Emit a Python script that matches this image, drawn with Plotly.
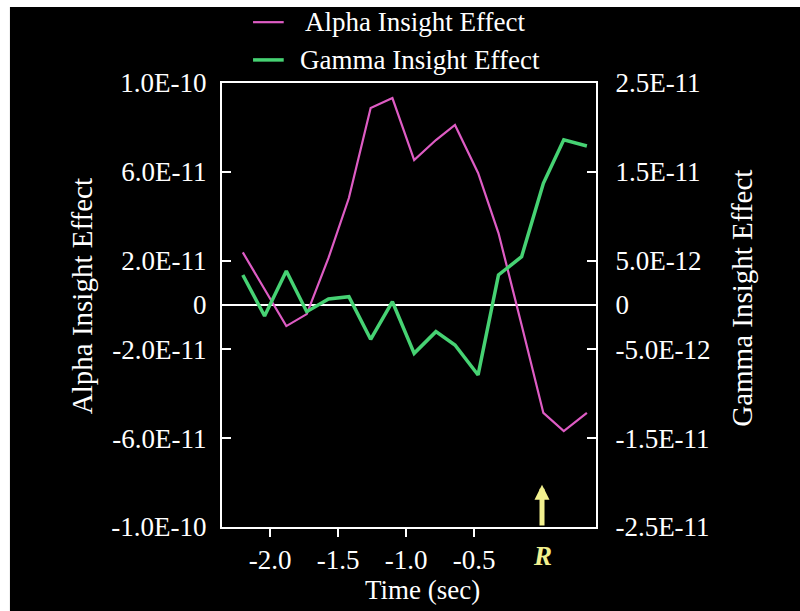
import plotly.graph_objects as go

# Time relative to the response (seconds)
time_sec = [-2.20, -2.04, -1.88, -1.73, -1.57, -1.42, -1.26, -1.10, -0.94,
            -0.78, -0.64, -0.47, -0.32, -0.15, 0.01, 0.16, 0.33]

# Alpha insight effect (left axis)
alpha_effect = [2.37e-11, 0.72e-11, -0.95e-11, -0.41e-11, 2.12e-11, 4.82e-11,
                8.87e-11, 9.32e-11, 6.53e-11, 7.43e-11, 8.11e-11, 5.95e-11,
                3.24e-11, -0.90e-11, -4.86e-11, -5.68e-11, -4.86e-11]

# Gamma insight effect (right axis)
gamma_effect = [3.38e-12, -1.24e-12, 3.83e-12, -0.75e-12, 0.68e-12, 0.93e-12,
                -3.86e-12, 0.37e-12, -5.44e-12, -3.00e-12, -4.50e-12, -7.88e-12,
                3.38e-12, 5.44e-12, 13.7e-12, 18.6e-12, 17.9e-12]

x_tickvals = [-2.0, -1.5, -1.0, -0.5]
x_ticktext = ["-2.0", "-1.5", "-1.0", "-0.5"]

alpha_tickvals = [-1.0e-10, -6.0e-11, -2.0e-11, 0, 2.0e-11, 6.0e-11, 1.0e-10]
alpha_ticktext = ["-1.0E-10", "-6.0E-11", "-2.0E-11", "0", "2.0E-11", "6.0E-11", "1.0E-10"]

gamma_tickvals = [-2.5e-11, -1.5e-11, -5.0e-12, 0, 5.0e-12, 1.5e-11, 2.5e-11]
gamma_ticktext = ["-2.5E-11", "-1.5E-11", "-5.0E-12", "0", "5.0E-12", "1.5E-11", "2.5E-11"]

series_names = ["Alpha Insight Effect", "Gamma Insight Effect"]

response_time = 0.0

FONT = "Liberation Serif"
ALPHA_COLOR = "#de5cc4"
GAMMA_COLOR = "#46d273"
R_COLOR = "#f2f08e"

fig = go.Figure()
fig.add_trace(go.Scatter(x=time_sec, y=alpha_effect, mode="lines",
                         name=series_names[0],
                         line=dict(color=ALPHA_COLOR, width=2.2)))
fig.add_trace(go.Scatter(x=time_sec, y=gamma_effect, mode="lines",
                         name=series_names[1], yaxis="y2",
                         line=dict(color=GAMMA_COLOR, width=3.5)))

axis_font = dict(family=FONT, size=27, color="white")

fig.update_layout(
    width=800, height=611,
    margin=dict(l=222, r=204, t=83, b=84),
    paper_bgcolor="black", plot_bgcolor="black",
    font=dict(family=FONT, size=27, color="white"),
    showlegend=False,
    xaxis=dict(range=[-2.353, 0.397], showgrid=False, zeroline=False,
               showline=True, mirror=True, linecolor="white", linewidth=2,
               ticks="outside", ticklen=8, tickwidth=2, tickcolor="white",
               tickvals=x_tickvals, ticktext=x_ticktext, tickfont=axis_font),
    yaxis=dict(range=[-1.0e-10, 1.0e-10], showgrid=False,
               zeroline=True, zerolinecolor="white", zerolinewidth=2,
               showline=True, mirror=True, linecolor="white", linewidth=2,
               ticks="inside", ticklen=9, tickwidth=2, tickcolor="white",
               tickvals=alpha_tickvals, ticktext=alpha_ticktext,
               tickfont=axis_font, ticklabelstandoff=8),
    yaxis2=dict(range=[-2.5e-11, 2.5e-11], overlaying="y", side="right",
                showgrid=False, zeroline=False,
                showline=True, linecolor="white", linewidth=2,
                ticks="inside", ticklen=9, tickwidth=2, tickcolor="white",
                tickvals=gamma_tickvals, ticktext=gamma_ticktext,
                tickfont=axis_font, ticklabelstandoff=12),
)

# White frame along the top and left edges of the figure
fig.add_shape(type="rect", xref="paper", yref="paper", layer="below",
              x0=-0.62, x1=1.6, y0=1.171, y1=1.25, fillcolor="white", line_width=0)
fig.add_shape(type="rect", xref="paper", yref="paper", layer="below",
              x0=-0.62, x1=-0.567, y0=-0.25, y1=1.25, fillcolor="white", line_width=0)

# Key above the plot: line sample plus series name
key_rows = [(series_names[0], ALPHA_COLOR, 2.2, 1.137, 0.217),
            (series_names[1], GAMMA_COLOR, 3.5, 1.052, 0.203)]
for name, color, width, ypos, xtext in key_rows:
    fig.add_shape(type="line", xref="paper", yref="paper",
                  x0=0.083, x1=0.165, y0=ypos, y1=ypos,
                  line=dict(color=color, width=width))
    fig.add_annotation(text=name, xref="paper", yref="paper",
                       x=xtext, y=ypos, xanchor="left", yanchor="middle",
                       showarrow=False, font=dict(family=FONT, size=27, color="white"))

# Axis titles
fig.add_annotation(text="Alpha Insight Effect", xref="paper", yref="paper",
                   x=-0.374, y=0.52, xanchor="center", yanchor="middle",
                   textangle=-90, showarrow=False,
                   font=dict(family=FONT, size=29, color="white"))
fig.add_annotation(text="Gamma Insight Effect", xref="paper", yref="paper",
                   x=1.39, y=0.516, xanchor="center", yanchor="middle",
                   textangle=-90, showarrow=False,
                   font=dict(family=FONT, size=29, color="white"))
fig.add_annotation(text="Time (sec)", xref="paper", yref="paper",
                   x=0.537, y=-0.142, xanchor="center", yanchor="middle",
                   showarrow=False,
                   font=dict(family=FONT, size=27, color="white"))

# Response marker
fig.add_annotation(x=response_time, y=-0.81e-10, xref="x", yref="y",
                   ax=response_time, ay=-1.0e-10, axref="x", ayref="y",
                   text="", showarrow=True, arrowhead=2, arrowsize=0.6,
                   arrowwidth=5, arrowcolor=R_COLOR, standoff=0, startstandoff=0)
fig.add_annotation(x=response_time, y=-0.065, xref="x", yref="paper",
                   xanchor="center", yanchor="middle",
                   text="<b><i>R</i></b>", showarrow=False,
                   font=dict(family=FONT, size=27, color=R_COLOR))

fig.write_html("out.html")
